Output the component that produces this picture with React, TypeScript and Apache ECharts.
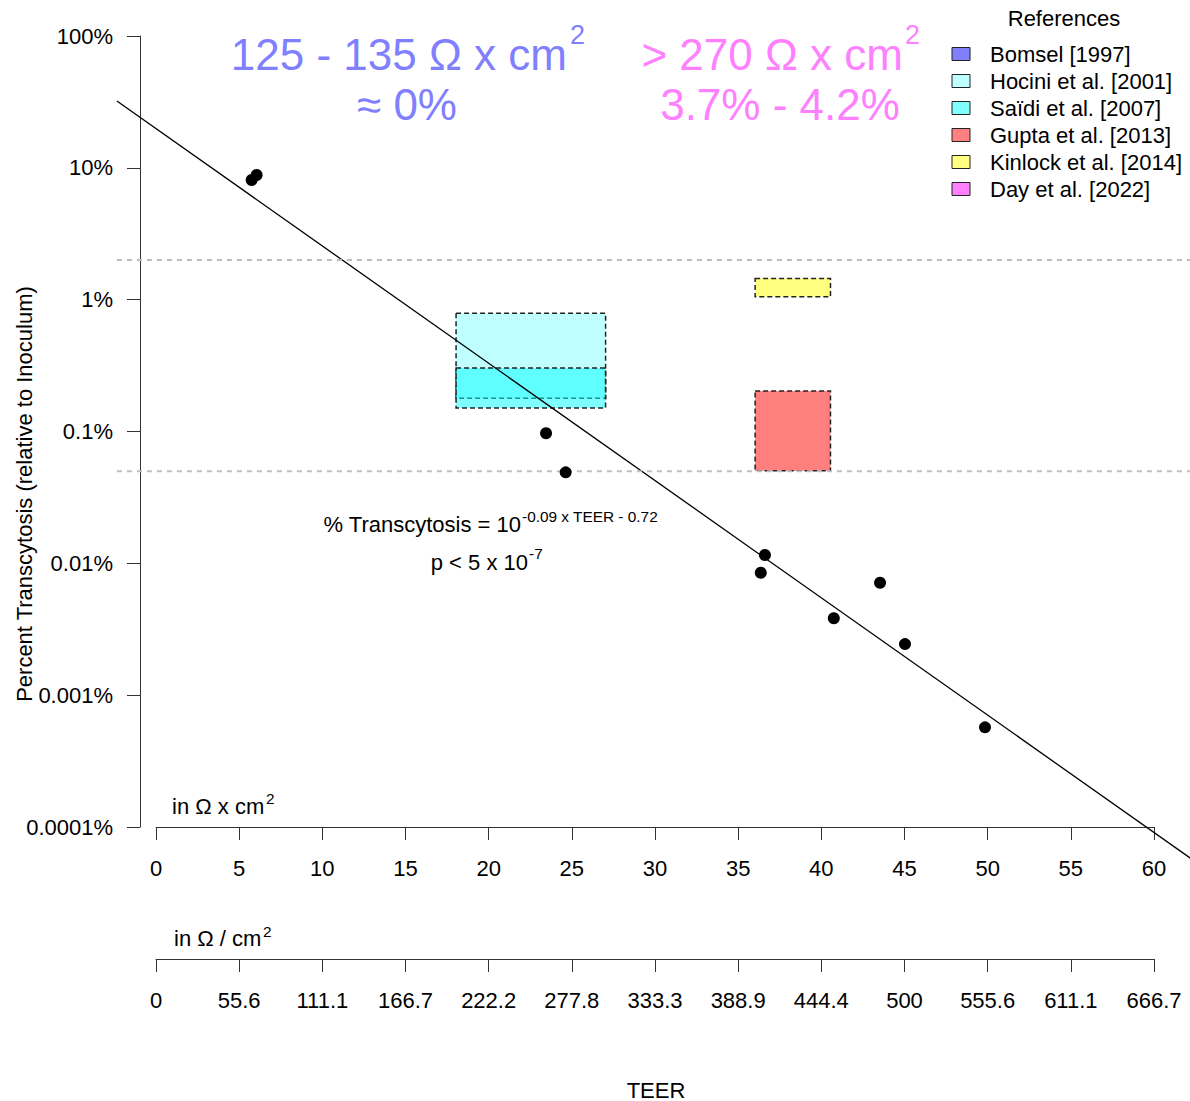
import React, { useEffect, useRef } from "react";
import * as echarts from "echarts";

// ---------- data ----------
const teer = [5.75, 6.05, 23.45, 24.63, 36.61, 36.36, 43.53, 40.75, 45.03, 49.84];
const transcytosisPct = [8.09, 8.82, 0.0969, 0.049, 0.01156, 0.00849, 0.00713, 0.00383, 0.00244, 0.00057];

// regression line end points
const fitTeer = [-2.35, 62.2];
const fitPct = [32.1, 0.0000579];

// horizontal reference levels (grey dashed)
const refLineTeer = [-2.35, 62.2];
const refLevelsPct = [2, 0.05];

const refNames = [
  "Bomsel [1997]",
  "Hocini et al. [2001]",
  "Saïdi et al. [2007]",
  "Gupta et al. [2013]",
  "Kinlock et al. [2014]",
  "Day et al. [2022]",
];
const refFill = [
  "rgba(0,0,255,0.5)",
  "rgba(0,255,255,0.25)",
  "rgba(0,255,255,0.5)",
  "rgba(255,0,0,0.5)",
  "rgba(255,255,0,0.5)",
  "rgba(255,0,255,0.5)",
];
const refLegendColors = ["#8080FF", "#BFFFFF", "#80FFFF", "#FF8080", "#FFFF80", "#FF80FF"];

// literature boxes
const boxRef = [1, 2, 3, 4];
const boxTeerMin = [18.04, 18.04, 36.02, 36.02];
const boxTeerMax = [27.03, 27.03, 40.55, 40.55];
const boxPctMin = [0.179, 0.151, 0.0503, 1.05];
const boxPctMax = [0.79, 0.303, 0.203, 1.45];

const xTickLabels = ["0", "5", "10", "15", "20", "25", "30", "35", "40", "45", "50", "55", "60"];
const ohmPerCm2Labels = ["0", "55.6", "111.1", "166.7", "222.2", "277.8", "333.3", "388.9", "444.4", "500", "555.6", "611.1", "666.7"];
const yTickLabels = ["0.0001%", "0.001%", "0.01%", "0.1%", "1%", "10%", "100%"];

const FONT = "'Liberation Sans', Arial, Helvetica, sans-serif";

function txt(text: string, x: number, y: number, size: number, color: string, align = "left", rotation = 0) {
  return {
    type: "text",
    x,
    y,
    rotation,
    silent: true,
    style: {
      text,
      fontSize: size,
      fontFamily: FONT,
      fill: color,
      align,
      verticalAlign: "middle",
    },
  };
}

function segmentSeries(name: string, x: number[], y: number[], stroke: string, width: number, dash: number[] | null) {
  return {
    type: "custom",
    name,
    xAxisIndex: 0,
    clip: false,
    silent: true,
    encode: { x: [0, 1], y: [2, 3] },
    data: [[x[0], x[1], y[0], y[1]]],
    renderItem: (params: any, api: any) => {
      const a = api.coord([api.value(0), api.value(2)]);
      const b = api.coord([api.value(1), api.value(3)]);
      return {
        type: "line",
        shape: { x1: a[0], y1: a[1], x2: b[0], y2: b[1] },
        style: { stroke, lineWidth: width, lineDash: dash || undefined, fill: null },
      };
    },
  };
}

export default function App() {
  const ref = useRef<HTMLDivElement>(null);

  useEffect(() => {
    const chart = echarts.init(ref.current!, undefined, { renderer: "svg" });

    const axisCommon = {
      axisLine: { show: true, onZero: false, lineStyle: { color: "#333", width: 1 } },
      axisTick: { show: true, length: 13, lineStyle: { color: "#333", width: 1 } },
      splitLine: { show: false },
    };

    const legendGraphics: any[] = [];
    refNames.forEach((name, i) => {
      const cy = 54 + i * 27;
      legendGraphics.push({
        type: "rect",
        shape: { x: 952, y: cy - 6.5, width: 18, height: 13 },
        style: { fill: refLegendColors[i], stroke: "#222", lineWidth: 1 },
        silent: true,
      });
      legendGraphics.push(txt(name, 990, cy, 22, "#000"));
    });

    const option: any = {
      animation: false,
      backgroundColor: "#fff",
      grid: { left: 156, right: 36, top: 36, bottom: 274, outerBoundsMode: "none" },
      xAxis: [
        {
          type: "value",
          min: 0,
          max: 60,
          interval: 5,
          position: "bottom",
          offset: 0,
          ...axisCommon,
          axisLabel: {
            margin: 30,
            fontSize: 22,
            fontFamily: FONT,
            color: "#000",
            formatter: (v: number) => xTickLabels[Math.round(v / 5)] ?? "",
          },
        },
        {
          type: "value",
          min: 0,
          max: 60,
          interval: 5,
          position: "bottom",
          offset: 132,
          ...axisCommon,
          axisLabel: {
            margin: 30,
            fontSize: 22,
            fontFamily: FONT,
            color: "#000",
            formatter: (v: number) => ohmPerCm2Labels[Math.round(v / 5)] ?? "",
          },
        },
      ],
      yAxis: {
        type: "log",
        logBase: 10,
        min: 0.0001,
        max: 100,
        splitNumber: 6,
        offset: 16,
        ...axisCommon,
        axisLabel: {
          margin: 27,
          fontSize: 22,
          fontFamily: FONT,
          color: "#000",
          formatter: (v: number) => yTickLabels[Math.round(Math.log10(v)) + 4] ?? "",
        },
      },
      series: [
        {
          type: "custom",
          name: "References",
          xAxisIndex: 0,
          encode: { x: [0, 1], y: [2, 3] },
          data: boxRef.map((r, i) => [boxTeerMin[i], boxTeerMax[i], boxPctMin[i], boxPctMax[i], r]),
          renderItem: (params: any, api: any) => {
            const r = api.value(4);
            const tl = api.coord([api.value(0), api.value(3)]);
            const br = api.coord([api.value(1), api.value(2)]);
            return {
              type: "rect",
              shape: { x: tl[0], y: tl[1], width: br[0] - tl[0], height: br[1] - tl[1] },
              style: { fill: refFill[r], stroke: "#222", lineWidth: 1.5, lineDash: [5, 3] },
            };
          },
          silent: true,
        },
        {
          type: "scatter",
          name: "Data",
          xAxisIndex: 0,
          symbol: "circle",
          symbolSize: 12,
          itemStyle: { color: "#000", opacity: 1 },
          data: teer.map((t, i) => [t, transcytosisPct[i]]),
          silent: true,
        },
        segmentSeries("Fit", fitTeer, fitPct, "#000", 1.3, null),
        ...refLevelsPct.map((lvl, k) =>
          segmentSeries("Level " + k, refLineTeer, [lvl, lvl], "#BEBEBE", 2, [5, 5])
        ),
      ],
      graphic: [
        // big annotations
        txt("125 - 135 Ω x cm", 567, 54, 44, "#8080FF", "right"),
        txt("2", 570, 35, 27, "#8080FF", "left"),
        txt("≈ 0%", 407, 104, 44, "#8080FF", "center"),
        txt("> 270 Ω x cm", 903, 54, 44, "#FF80FF", "right"),
        txt("2", 905, 35, 27, "#FF80FF", "left"),
        txt("3.7% - 4.2%", 780, 104, 44, "#FF80FF", "center"),
        // formula
        txt("% Transcytosis = 10", 521, 524, 22, "#000", "right"),
        txt("-0.09 x TEER - 0.72", 522, 516, 15.4, "#000", "left"),
        txt("p < 5 x 10", 528, 562, 22, "#000", "right"),
        txt("-7", 529, 553, 15.4, "#000", "left"),
        // axis unit labels
        txt("in Ω x cm", 172, 806, 22, "#000", "left"),
        txt("2", 266, 798, 15.4, "#000", "left"),
        txt("in Ω / cm", 174, 938, 22, "#000", "left"),
        txt("2", 263, 931, 15.4, "#000", "left"),
        // axis titles
        txt("TEER", 656, 1090, 22, "#000", "center"),
        txt("Percent Transcytosis (relative to Inoculum)", 24, 494, 22, "#000", "center", Math.PI / 2),
        // legend
        txt("References", 1064, 18, 22, "#000", "center"),
        ...legendGraphics,
      ],
    };

    chart.setOption(option);
    return () => chart.dispose();
  }, []);

  return (
    <div
      ref={ref}
      style={{ position: "fixed", left: 0, top: 0, width: 1190, height: 1101, background: "#fff" }}
    />
  );
}
